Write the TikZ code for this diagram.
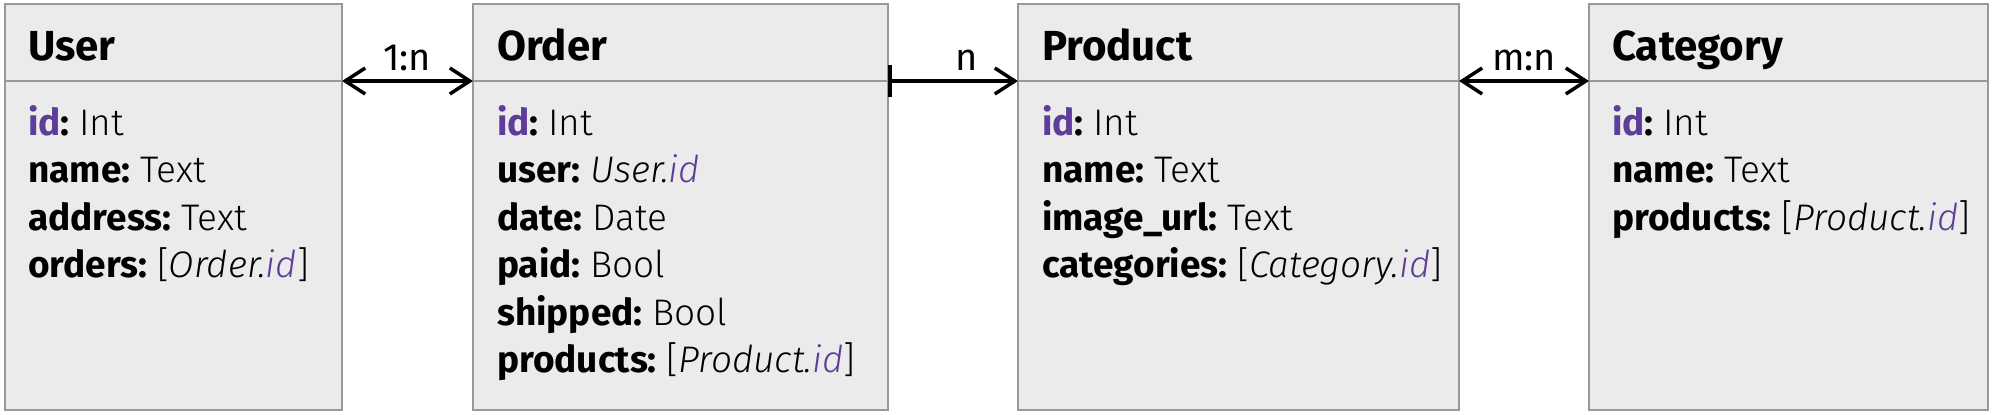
\documentclass[tikz,border=0pt]{standalone}
\usepackage{fontspec}
\setmainfont{Fira Sans}
\newfontfamily\lightf{Fira Sans Light}
\usetikzlibrary{arrows.meta}
\definecolor{boxfill}{HTML}{EBEBEB}
\definecolor{boxline}{HTML}{999999}
\definecolor{idc}{HTML}{5E3C99}
\newcommand\kid{{\bfseries\color{idc}id}{\bfseries:}\ {\lightf Int}}
\newcommand\fk[2]{{\bfseries #1:}\ {\lightf #2}}
\newcommand\rid[1]{{\lightf\itshape #1.\textcolor{idc}{id}}}
\newcommand\lrid[1]{{\lightf [{\itshape #1.\textcolor{idc}{id}}]}}
\begin{document}
\begin{tikzpicture}[x=1pt,y=-1pt,
  hbox/.style={draw=boxline, fill=boxfill, line width=2pt, inner sep=0pt, outer sep=0pt, minimum height=77pt, anchor=north west},
  bbox/.style={draw=boxline, fill=boxfill, line width=2pt, inner sep=0pt, outer sep=0pt, minimum height=329pt, anchor=north west},
  title/.style={anchor=base west, inner sep=0pt, font=\fontsize{42}{48}\selectfont\bfseries},
  attr/.style={anchor=base west, inner sep=0pt, font=\fontsize{37}{44}\selectfont},
  lbl/.style={anchor=base, inner sep=0pt, font=\fontsize{38}{44}\selectfont},
  conn/.style={line width=3.5pt, black},
  tipA/.tip={Straight Barb[length=20pt,width=26pt]},
  tipB/.tip={Bar[width=32pt]}]
\useasboundingbox (0,0) rectangle (1995,415);
% boxes
\node[hbox, minimum width=337pt] (userh) at (5,4) {};
\node[bbox, minimum width=337pt] (userb) at (5,81) {};
\node[hbox, minimum width=415pt] (orderh) at (473,4) {};
\node[bbox, minimum width=415pt] (orderb) at (473,81) {};
\node[hbox, minimum width=441pt] (producth) at (1018,4) {};
\node[bbox, minimum width=441pt] (productb) at (1018,81) {};
\node[hbox, minimum width=399pt] (categoryh) at (1589,4) {};
\node[bbox, minimum width=399pt] (categoryb) at (1589,81) {};
% titles
\node[title] (usert) at (28,60) {User};
\node[title] (ordert) at (497,60) {Order};
\node[title] (productt) at (1042,60) {Product};
\node[title] (categoryt) at (1612,60) {Category};
% user
\node[attr] (u1) at (28,135) {\kid};
\node[attr] (u2) at (28,182.5) {\fk{name}{Text}};
\node[attr] (u3) at (28,230) {\fk{address}{Text}};
\node[attr] (u4) at (28,277.5) {{\bfseries orders:}\ \lrid{Order}};
% order
\node[attr] (o1) at (497,135) {\kid};
\node[attr] (o2) at (497,182.5) {{\bfseries user:}\ \rid{User}};
\node[attr] (o3) at (497,230) {\fk{date}{Date}};
\node[attr] (o4) at (497,277.5) {\fk{paid}{Bool}};
\node[attr] (o5) at (497,325) {\fk{shipped}{Bool}};
\node[attr] (o6) at (497,372.5) {{\bfseries products:}\ \lrid{Product}};
% product
\node[attr] (p1) at (1042,135) {\kid};
\node[attr] (p2) at (1042,182.5) {\fk{name}{Text}};
\node[attr] (p3) at (1042,230) {\fk{image\_url}{Text}};
\node[attr] (p4) at (1042,277.5) {{\bfseries categories:}\ \lrid{Category}};
% category
\node[attr] (c1) at (1612,135) {\kid};
\node[attr] (c2) at (1612,182.5) {\fk{name}{Text}};
\node[attr] (c3) at (1612,230) {{\bfseries products:}\ \lrid{Product}};
% connectors
\draw[conn, tipA-tipA] (userh.south east) -- (orderh.south west);
\draw[conn, tipB-tipA] (orderh.south east) -- (producth.south west);
\draw[conn, tipA-tipA] (producth.south east) -- (categoryh.south west);
% labels
\node[lbl] (l1) at (407,70) {1:n};
\node[lbl] (l2) at (967,70) {n};
\node[lbl] (l3) at (1524,70) {m:n};
\end{tikzpicture}
\end{document}
